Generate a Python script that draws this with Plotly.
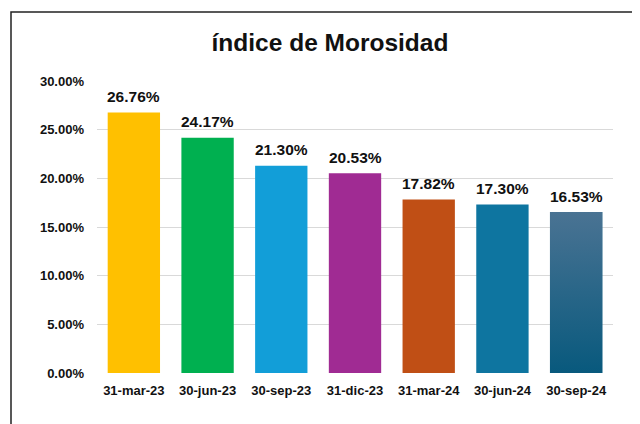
import plotly.graph_objects as go

categories = ["31-mar-23", "30-jun-23", "30-sep-23", "31-dic-23", "31-mar-24", "30-jun-24", "30-sep-24"]
values = [26.76, 24.17, 21.30, 20.53, 17.82, 17.30, 16.53]
colors = ["#FFC000", "#00B050", "#129ED8", "#A02B93", "#C04F15", "#0E75A0", "#236A8C"]
last_gradient = ["#4A7393", "#08597D"]  # top, bottom of last bar
tick_vals = [0, 5, 10, 15, 20, 25, 30]
tick_text = [f"{v:.2f}%" for v in tick_vals]

FONT = "Liberation Sans, Arial"
bar_width = 0.71
xs = list(range(len(categories)))

fig = go.Figure()
fig.add_trace(go.Bar(
    x=xs, y=values, width=bar_width,
    marker=dict(color=colors, line=dict(width=0)),
    hoverinfo="skip",
))

# gradient overlay for last bar (derived from data)
i = len(values) - 1
fig.add_trace(go.Scatter(
    x=[xs[i] - bar_width / 2, xs[i] + bar_width / 2, xs[i] + bar_width / 2, xs[i] - bar_width / 2, xs[i] - bar_width / 2],
    y=[0, 0, values[i], values[i], 0],
    mode="lines", line=dict(width=0),
    fill="toself",
    fillgradient=dict(type="vertical", colorscale=[[0, last_gradient[1]], [1, last_gradient[0]]]),
    hoverinfo="skip", showlegend=False,
))

annotations = [
    dict(x=x, y=v, xref="x", yref="y", text=f"<b>{v:.2f}%</b>", showarrow=False,
         yanchor="middle", yshift=16, font=dict(family=FONT, size=15.5, color="#111111"))
    for x, v in zip(xs, values)
]

fig.update_layout(
    width=640, height=424,
    margin=dict(l=89, r=35, t=73, b=59),
    paper_bgcolor="white", plot_bgcolor="white",
    showlegend=False,
    title=dict(text="<b>índice de Morosidad</b>", x=322 / 640, xref="container", xanchor="center",
               y=1 - 34 / 424, yref="container", yanchor="middle",
               font=dict(family=FONT, size=24.5, color="#111111")),
    xaxis=dict(tickmode="array", tickvals=xs, ticktext=[f"<b>{c}</b>" for c in categories],
               range=[-0.5, len(categories) - 0.5], showgrid=False, zeroline=False, showline=False,
               ticks="", ticklabelstandoff=8,
               tickfont=dict(family=FONT, size=13, color="#111111")),
    yaxis=dict(range=[0, 30], tickvals=tick_vals, ticktext=[f"<b>{t}</b>" for t in tick_text],
               showgrid=True, gridcolor="#D9D9D9", gridwidth=1, zeroline=False, showline=False,
               ticks="", ticklabelstandoff=12,
               tickfont=dict(family=FONT, size=13, color="#111111")),
    annotations=annotations,
    shapes=[dict(type="rect", xref="paper", yref="paper", x0=(3 - 89) / 516, x1=(660 - 89) / 516,
                 y0=-(440 - 365) / 292, y1=(365 - 4) / 292, line=dict(color="#222222", width=1.5),
                 layer="below")],
)

fig.write_html("out.html")
